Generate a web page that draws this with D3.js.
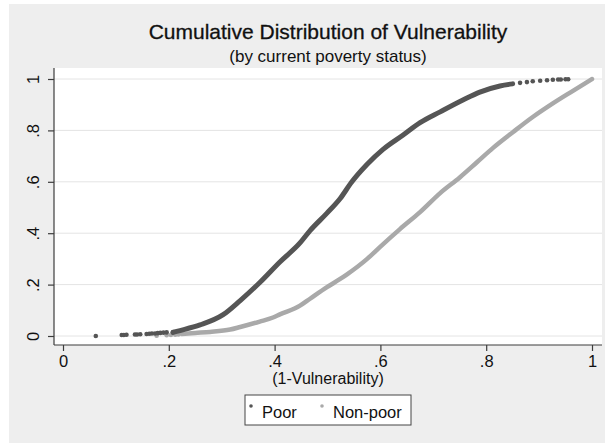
<!DOCTYPE html>
<html>
<head>
<script src="https://d3js.org/d3.v7.min.js"></script>
<style>
  body { margin: 0; background: #fff; }
  text { font-family: "Liberation Sans", Arial, sans-serif; fill: #111; }
</style>
</head>
<body>
<div id="chart"></div>
<script>
// ---- data ----
const xTicks = [0, 0.2, 0.4, 0.6, 0.8, 1];
const xTickLabels = ["0", ".2", ".4", ".6", ".8", "1"];
const yTicks = [0, 0.2, 0.4, 0.6, 0.8, 1];
const yTickLabels = ["0", ".2", ".4", ".6", ".8", "1"];

// Poor: dense part of the cumulative curve
const poorX = [0.208, 0.215, 0.259, 0.302, 0.335, 0.372, 0.410, 0.448, 0.467, 0.499, 0.524, 0.545, 0.575, 0.605, 0.643, 0.675, 0.713, 0.756, 0.788, 0.826, 0.850];
const poorY = [0.014, 0.018, 0.043, 0.082, 0.138, 0.208, 0.288, 0.362, 0.410, 0.478, 0.535, 0.597, 0.668, 0.726, 0.782, 0.830, 0.872, 0.918, 0.949, 0.973, 0.981];
// Poor: sparse points at both ends
const poorSparseX = [0.062, 0.111, 0.115, 0.120, 0.136, 0.140, 0.146, 0.158, 0.163, 0.168, 0.174, 0.179, 0.184, 0.190, 0.196, 0.208,
                     0.864, 0.877, 0.888, 0.902, 0.915, 0.926, 0.936, 0.941, 0.950, 0.955];
const poorSparseY = [0.000, 0.004, 0.004, 0.005, 0.006, 0.006, 0.007, 0.008, 0.009, 0.010, 0.010, 0.011, 0.012, 0.013, 0.014, 0.015,
                     0.985, 0.988, 0.991, 0.993, 0.995, 0.997, 0.998, 0.998, 0.999, 0.999];

// Non-poor
const nonPoorX = [0.224, 0.250, 0.278, 0.316, 0.335, 0.372, 0.397, 0.410, 0.448, 0.467, 0.499, 0.524, 0.537, 0.575, 0.599, 0.637, 0.675, 0.713, 0.750, 0.783, 0.813, 0.851, 0.888, 0.926, 0.964, 1.0];
const nonPoorY = [0.008, 0.012, 0.016, 0.025, 0.035, 0.056, 0.072, 0.084, 0.118, 0.145, 0.190, 0.222, 0.240, 0.300, 0.346, 0.416, 0.482, 0.556, 0.617, 0.677, 0.732, 0.794, 0.852, 0.905, 0.954, 1.0];
const nonPoorSparseX = [0.177, 0.196, 0.204, 0.212, 0.218];
const nonPoorSparseY = [0.001, 0.003, 0.004, 0.005, 0.006];

const series = ["Poor", "Non-poor"];
const colors = ["#555555", "#a9a9a9"];

// ---- layout ----
const W = 605, H = 444;
const plot = {left: 54, right: 602, top: 68, bottom: 345};

const svg = d3.select("#chart").append("svg")
  .attr("width", W).attr("height", H);

svg.append("rect").attr("x", 9).attr("y", 4).attr("width", W - 9).attr("height", 439)
  .attr("fill", "#eeeeee");

svg.append("rect")
  .attr("x", plot.left).attr("y", plot.top)
  .attr("width", plot.right - plot.left).attr("height", plot.bottom - plot.top)
  .attr("fill", "#fff");

const x = d3.scaleLinear().domain([0, 1]).range([63, 592]);
const y = d3.scaleLinear().domain([0, 1]).range([336, 79]);

// gridlines
svg.append("g").selectAll("line").data(yTicks).join("line")
  .attr("x1", plot.left).attr("x2", plot.right)
  .attr("y1", d => y(d)).attr("y2", d => y(d))
  .attr("stroke", "#e4e4e4").attr("stroke-width", 1);

// axes
const xAxis = svg.append("g")
  .attr("transform", `translate(0,${plot.bottom})`)
  .call(d3.axisBottom(x).tickValues(xTicks).tickSize(6).tickPadding(4)
    .tickFormat((d, i) => xTickLabels[i]));
xAxis.select(".domain").attr("d", `M${plot.left},0H${plot.right}`);

const yAxis = svg.append("g")
  .attr("transform", `translate(${plot.left},0)`)
  .call(d3.axisLeft(y).tickValues(yTicks).tickSize(6)
    .tickFormat((d, i) => yTickLabels[i]));
yAxis.select(".domain").attr("d", `M0,${plot.top}V${plot.bottom}`);

[xAxis, yAxis].forEach(a => {
  a.selectAll(".domain").attr("stroke", "#3c3c3c").attr("stroke-width", 1.2);
  a.selectAll(".tick line").attr("stroke", "#3c3c3c").attr("stroke-width", 1.2);
  a.selectAll("text").attr("font-size", 16.5)
    .style("font-family", '"Liberation Sans", Arial, sans-serif').attr("fill", "#111");
});
yAxis.selectAll(".tick text")
  .attr("x", null).attr("dy", null)
  .attr("text-anchor", "middle")
  .attr("transform", "translate(-15,0) rotate(-90)");

// curves
const line = d3.line().x(d => x(d[0])).y(d => y(d[1])).curve(d3.curveMonotoneX);
const dense = [d3.zip(poorX, poorY), d3.zip(nonPoorX, nonPoorY)];
const sparse = [d3.zip(poorSparseX, poorSparseY), d3.zip(nonPoorSparseX, nonPoorSparseY)];
const widths = [5, 4.5];

[1, 0].forEach(i => {
  svg.append("path").datum(dense[i])
    .attr("d", line).attr("fill", "none")
    .attr("stroke", colors[i]).attr("stroke-width", widths[i])
    .attr("stroke-linejoin", "round").attr("stroke-linecap", "round");
  svg.append("g").selectAll("circle").data(sparse[i]).join("circle")
    .attr("cx", d => x(d[0])).attr("cy", d => y(d[1]))
    .attr("r", 2.3).attr("fill", colors[i]);
});

// titles
svg.append("text").attr("x", 328).attr("y", 39).attr("text-anchor", "middle")
  .attr("font-size", 21).attr("stroke", "#111").attr("stroke-width", 0.3)
  .text("Cumulative Distribution of Vulnerability");
svg.append("text").attr("x", 328).attr("y", 62).attr("text-anchor", "middle")
  .attr("font-size", 17).text("(by current poverty status)");
svg.append("text").attr("x", 328).attr("y", 384).attr("text-anchor", "middle")
  .attr("font-size", 16).text("(1-Vulnerability)");

// legend
const lg = svg.append("g");
lg.append("rect").attr("x", 245).attr("y", 395).attr("width", 166).attr("height", 30)
  .attr("fill", "#fff").attr("stroke", "#444").attr("stroke-width", 1);
const legendX = [251, 322];
series.forEach((s, i) => {
  lg.append("circle").attr("cx", legendX[i]).attr("cy", 406).attr("r", 1.8).attr("fill", colors[i]);
  lg.append("text").attr("x", legendX[i] + 11).attr("y", 418)
    .attr("font-size", 16.5).text(s);
});
</script>
</body>
</html>
